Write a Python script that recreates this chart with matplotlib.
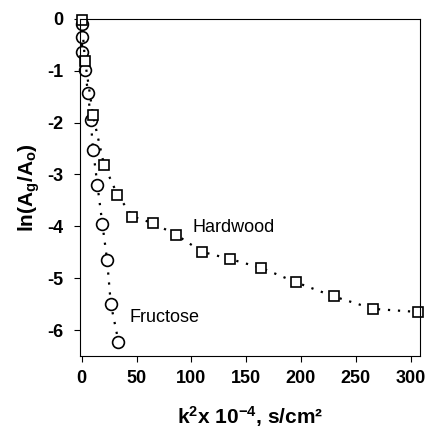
import numpy as np
import matplotlib
matplotlib.use('Agg')
import matplotlib.pyplot as plt

plt.rcParams['font.family'] = ['Liberation Sans', 'DejaVu Sans']
plt.rcParams['mathtext.fontset'] = 'custom'
plt.rcParams['mathtext.rm'] = 'Liberation Sans:bold'
plt.rcParams['mathtext.it'] = 'Liberation Sans:bold'
plt.rcParams['mathtext.bf'] = 'Liberation Sans:bold'

# Fructose (circles)
fru_x = [0, 0, 0.5, 2.7, 5.8, 8.2, 10.3, 14.3, 18.8, 23.1, 26.5, 33.5]
fru_y = [-0.1, -0.35, -0.64, -0.98, -1.42, -1.95, -2.52, -3.2, -3.95, -4.64, -5.49, -6.22]

# Hardwood (squares)
hw_x = [0, 3.0, 10.3, 20.4, 32.6, 46.3, 65.2, 86, 109.8, 135.4, 163.8, 195.8, 229.9, 265.9, 306.8]
hw_y = [-0.02, -0.81, -1.86, -2.82, -3.39, -3.81, -3.94, -4.16, -4.49, -4.63, -4.80, -5.08, -5.35, -5.59, -5.65]

xticks = [0, 50, 100, 150, 200, 250, 300]
yticks = [0, -1, -2, -3, -4, -5, -6]

fig = plt.figure(figsize=(4.26, 4.28), dpi=100)
ax = fig.add_axes([0.188, 0.168, 0.798, 0.788])

ax.plot(fru_x, fru_y, color='black', linestyle=(0, (1, 3.5)), linewidth=1.6,
        marker='o', markersize=8.5, markerfacecolor='white',
        markeredgecolor='black', markeredgewidth=1.2, clip_on=False)
ax.plot(hw_x, hw_y, color='black', linestyle=(0, (1, 3.5)), linewidth=1.6,
        marker='s', markersize=7.5, markerfacecolor='white',
        markeredgecolor='black', markeredgewidth=1.2, clip_on=False)

ax.text(101, -4.03, 'Hardwood', fontsize=13, va='center', ha='left')
ax.text(44, -5.76, 'Fructose', fontsize=13, va='center', ha='left')

ax.set_xlim(-1.5, 308.6)
ax.set_ylim(-6.5, 0.0)
ax.set_xticks(xticks)
ax.set_yticks(yticks)
ax.set_xticklabels([str(v) for v in xticks], fontweight='bold', fontsize=13)
ax.set_yticklabels([str(v) for v in yticks], fontweight='bold', fontsize=13)
ax.tick_params(direction='out', length=4, width=0.8, pad=6)
ax.tick_params(axis='y', pad=8)

ax.set_xlabel(r'k$^2$x 10$^{-4}$, s/cm²', fontweight='bold', fontsize=15, labelpad=12)
ax.set_ylabel(r'ln(A$_g$/A$_o$)', fontweight='bold', fontsize=15, labelpad=4)

for s in ax.spines.values():
    s.set_linewidth(0.8)

fig.savefig('out.png', dpi=100)
